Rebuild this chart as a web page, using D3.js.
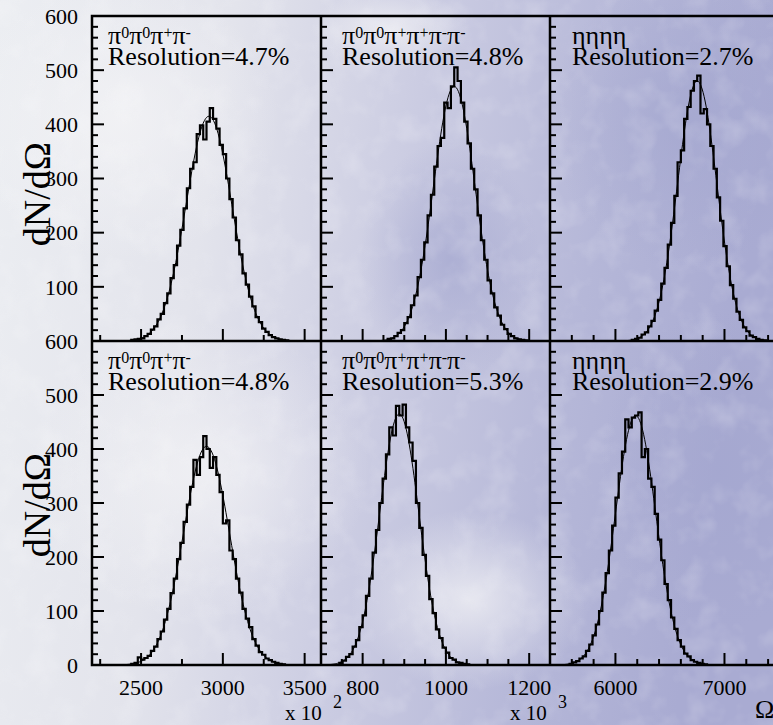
<!DOCTYPE html>
<html>
<head>
<meta charset="utf-8">
<script src="https://cdn.jsdelivr.net/npm/d3@7"></script>
<style>
  body { margin: 0; background: #e4e5ec; }
</style>
</head>
<body>
<div id="chart"></div>
<script>
// ---- data ----
// x ranges of the three columns (units of the axis, before the x 10^n factor)
const xDomains = [[2200, 3600], [700, 1250], [5400, 7500]];
const xTickStep = [250, 50, 200];
const xMajorStep = [500, 200, 1000];
const xLabels = [[2500, 3000, 3500], [800, 1000, 1200], [6000, 7000]];
const yTop = [100, 200, 300, 400, 500, 600];
const yBottom = [0, 100, 200, 300, 400, 500, 600];

const channels = [
  [["π", "0"], ["π", "0"], ["π", "+"], ["π", "-"]],
  [["π", "0"], ["π", "0"], ["π", "+"], ["π", "+"], ["π", "-"], ["π", "-"]],
  [["ηηηη", ""]]
];
const resTop = ["4.7%", "4.8%", "2.7%"];
const resBottom = ["4.8%", "5.3%", "2.9%"];

// histogram binning: first bin edge and bin width per panel
const binWidths = [20, 8, 30];
const startsTop = [2440, 860, 6150];
const startsBottom = [2440, 744, 5580];

const countsTopPi4 = [2,3,4,5,9,13,21,27,40,50,70,88,116,140,176,205,245,282,318,330,382,398,372,405,430,410,392,362,345,300,262,228,186,160,125,104,82,64,44,35,23,17,11,7,5,3,2,1];
const countsTopPi6 = [4,5,9,15,20,33,44,66,84,118,150,182,232,270,322,360,375,440,430,470,505,480,440,405,365,318,280,232,186,150,112,88,62,47,30,22,13,9,5,3,2,1];
const countsTopEta4 = [2,4,6,12,16,27,37,56,76,106,135,178,218,268,330,352,410,432,462,480,490,420,428,400,360,318,265,222,175,138,103,78,54,39,25,18,10,7,4,2,1];
const countsBotPi4 = [2,4,14,10,13,17,26,34,48,62,84,104,133,160,196,226,265,297,330,380,352,385,424,400,365,385,352,320,262,268,212,196,160,134,104,86,70,48,36,24,19,12,9,6,4,2,1];
const countsBotPi6 = [4,8,15,20,34,46,70,92,128,160,208,250,300,345,390,440,425,480,462,482,440,412,378,300,254,204,165,122,96,66,50,32,23,13,10,5,4,2,1];
const countsBotEta4 = [2,5,7,12,16,26,38,55,75,100,134,170,212,258,310,355,395,455,440,458,462,468,385,400,345,330,280,232,194,150,120,88,67,46,34,21,16,9,6,4,2,1];

// gaussian fit parameters per panel
const fitMeanTop = [2915, 1020, 6750];
const fitSigmaTop = [140, 50, 180];
const fitAmpTop = [415, 470, 480];
const fitMeanBottom = [2900, 888, 6185];
const fitSigmaBottom = [140, 47, 185];
const fitAmpBottom = [405, 465, 462];

// ---- layout ----
const W = 773, H = 725;
const colEdges = [92, 321, 550, 779];
const rowEdges = [16, 341, 665];
const textX = [108, 342, 572];
const titleY = [194, 505];
const serif = "'Liberation Serif', 'Times New Roman', Times, 'DejaVu Serif', serif";

const svg = d3.select("#chart").append("svg")
  .attr("width", W).attr("height", H)
  .attr("font-family", serif);

// cloudy background
const defs = svg.append("defs");
const bg = defs.append("linearGradient").attr("id", "bg")
  .attr("x1", 0).attr("y1", 0).attr("x2", 1).attr("y2", 0.15);
[[0, "#eceef2"], [0.3, "#e3e4ec"], [0.55, "#cbcce2"], [0.8, "#b5b7d8"], [1, "#a9abd2"]]
  .forEach(([o, c]) => bg.append("stop").attr("offset", o).attr("stop-color", c));
const blob = defs.append("radialGradient").attr("id", "blobW");
blob.append("stop").attr("offset", 0).attr("stop-color", "#f4f4f6").attr("stop-opacity", 0.75);
blob.append("stop").attr("offset", 1).attr("stop-color", "#f4f4f6").attr("stop-opacity", 0);
const blobB = defs.append("radialGradient").attr("id", "blobB");
blobB.append("stop").attr("offset", 0).attr("stop-color", "#a3a6cf").attr("stop-opacity", 0.7);
blobB.append("stop").attr("offset", 1).attr("stop-color", "#a3a6cf").attr("stop-opacity", 0);

const noise = defs.append("filter").attr("id", "noise")
  .attr("x", 0).attr("y", 0).attr("width", "100%").attr("height", "100%");
noise.append("feTurbulence").attr("type", "fractalNoise")
  .attr("baseFrequency", 0.035).attr("numOctaves", 3).attr("seed", 4);
noise.append("feColorMatrix").attr("type", "matrix")
  .attr("values", "0 0 0 0 1  0 0 0 0 1  0 0 0 0 1  1.2 0 0 0 -0.55");

svg.append("rect").attr("width", W).attr("height", H).attr("fill", "url(#bg)");
[[200, 470, 170, 150], [470, 600, 120, 90], [120, 120, 160, 140], [390, 30, 80, 40]].forEach(([cx, cy, rx, ry]) =>
  svg.append("ellipse").attr("cx", cx).attr("cy", cy).attr("rx", rx).attr("ry", ry).attr("fill", "url(#blobW)"));
[[690, 120, 140, 150], [720, 470, 120, 160], [450, 260, 90, 120]].forEach(([cx, cy, rx, ry]) =>
  svg.append("ellipse").attr("cx", cx).attr("cy", cy).attr("rx", rx).attr("ry", ry).attr("fill", "url(#blobB)"));
svg.append("rect").attr("width", W).attr("height", H)
  .attr("filter", "url(#noise)").attr("opacity", 0.35);

const histsTop = [countsTopPi4, countsTopPi6, countsTopEta4];
const histsBottom = [countsBotPi4, countsBotPi6, countsBotEta4];

const rows = [
  { hists: histsTop, starts: startsTop, mean: fitMeanTop, sigma: fitSigmaTop, amp: fitAmpTop, res: resTop, labels: yTop },
  { hists: histsBottom, starts: startsBottom, mean: fitMeanBottom, sigma: fitSigmaBottom, amp: fitAmpBottom, res: resBottom, labels: yBottom }
];

function txt(sel, size) {
  return sel.attr("font-family", serif).attr("font-size", size).attr("fill", "#000");
}

rows.forEach((row, r) => {
  const y = d3.scaleLinear().domain([0, 600]).range([rowEdges[r + 1], rowEdges[r]]);

  for (let c = 0; c < 3; c++) {
    const x = d3.scaleLinear().domain(xDomains[c]).range([colEdges[c], colEdges[c + 1]]);
    const g = svg.append("g");

    // y ticks (pointing into the pad)
    d3.range(0, 601, 20).forEach(v => {
      const len = v % 100 === 0 ? 12 : 6;
      g.append("line")
        .attr("x1", x.range()[0]).attr("x2", x.range()[0] + len)
        .attr("y1", y(v)).attr("y2", y(v))
        .attr("stroke", "#000").attr("stroke-width", 2);
    });

    // x ticks
    const [d0, d1] = xDomains[c];
    const first = Math.ceil(d0 / xTickStep[c]) * xTickStep[c];
    d3.range(first, d1 + 1e-6, xTickStep[c]).forEach(v => {
      if (v === d0) return;
      const len = v % xMajorStep[c] === 0 ? 12 : 6;
      g.append("line")
        .attr("x1", x(v)).attr("x2", x(v))
        .attr("y1", y(0)).attr("y2", y(0) - len)
        .attr("stroke", "#000").attr("stroke-width", 2);
    });

    // gaussian fit
    const mu = row.mean[c], sg = row.sigma[c], A = row.amp[c];
    const fitPts = d3.range(mu - 4.5 * sg, mu + 4.5 * sg, sg / 20)
      .map(v => [v, A * Math.exp(-0.5 * ((v - mu) / sg) ** 2)]);
    const line = d3.line().x(d => x(d[0])).y(d => y(d[1]));
    g.append("path").attr("d", line(fitPts))
      .attr("fill", "none").attr("stroke", "#000").attr("stroke-width", 1);

    // histogram outline
    const counts = row.hists[c], s = row.starts[c], w = binWidths[c];
    const pts = [[s, 0]];
    counts.forEach((n, i) => { pts.push([s + i * w, n]); pts.push([s + (i + 1) * w, n]); });
    pts.push([s + counts.length * w, 0]);
    g.append("path").attr("d", line(pts))
      .attr("fill", "none").attr("stroke", "#000").attr("stroke-width", 2.2)
      .attr("stroke-linejoin", "miter");

    // channel + resolution text
    const t = txt(g.append("text"), "26px").attr("x", textX[c]).attr("y", rowEdges[r] + 28);
    channels[c].forEach(([b, sup]) => {
      t.append("tspan").attr("y", rowEdges[r] + 28).text(b);
      if (sup) t.append("tspan").attr("y", rowEdges[r] + 22).attr("font-size", "16px").text(sup);
    });
    txt(g.append("text"), "26px").attr("x", textX[c]).attr("y", rowEdges[r] + 49)
      .text("Resolution=" + row.res[c]);

    // x labels on the bottom row
    if (r === 1) {
      xLabels[c].forEach(v => {
        txt(g.append("text"), "22px").attr("x", x(v)).attr("y", 695)
          .attr("text-anchor", "middle").text(v);
      });
    }
  }

  // y labels
  row.labels.forEach(v => {
    txt(svg.append("text"), "22px").attr("x", 78).attr("y", y(v)).attr("dy", "0.35em")
      .attr("text-anchor", "end").text(v);
  });

  // y title
  txt(svg.append("text"), "38px")
    .attr("transform", `translate(50,${titleY[r]}) rotate(-90)`)
    .attr("text-anchor", "middle").text("dN/dΩ");
});

// frame and pad borders
const frame = svg.append("g").attr("stroke", "#000").attr("stroke-width", 2.5).attr("fill", "none");
frame.append("rect").attr("x", colEdges[0]).attr("y", rowEdges[0])
  .attr("width", colEdges[3] - colEdges[0]).attr("height", rowEdges[2] - rowEdges[0]);
[colEdges[1], colEdges[2]].forEach(cx =>
  frame.append("line").attr("x1", cx).attr("x2", cx).attr("y1", rowEdges[0]).attr("y2", rowEdges[2]));
frame.append("line").attr("x1", colEdges[0]).attr("x2", colEdges[3])
  .attr("y1", rowEdges[1]).attr("y2", rowEdges[1]);

// axis multipliers and x title
const mult = [[285, 333, "2"], [510, 558, "3"]];
mult.forEach(([tx, sx, p]) => {
  txt(svg.append("text"), "21px").attr("x", tx).attr("y", 720).text("x 10");
  txt(svg.append("text"), "18px").attr("x", sx).attr("y", 708).text(p);
});
txt(svg.append("text"), "26px").attr("x", 755).attr("y", 718).text("Ω");
</script>
</body>
</html>
